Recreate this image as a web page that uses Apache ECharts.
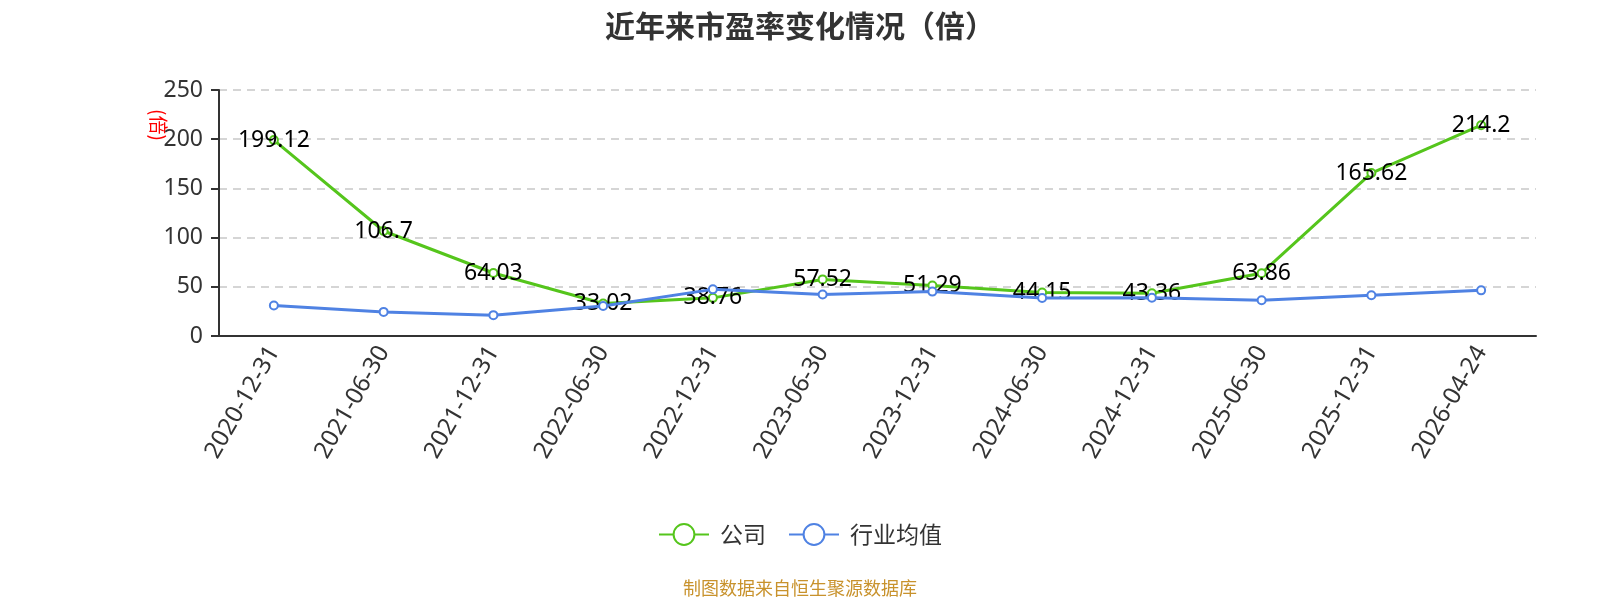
<!DOCTYPE html>
<html><head><meta charset="utf-8">
<script src="https://cdn.jsdelivr.net/npm/echarts@6/dist/echarts.min.js"></script>
<style>html,body{margin:0;padding:0;background:#fff}#c{width:1600px;height:600px}</style>
</head><body><div id="c"></div>
<script>
const categories = ['2020-12-31','2021-06-30','2021-12-31','2022-06-30','2022-12-31','2023-06-30','2023-12-31','2024-06-30','2024-12-31','2025-06-30','2025-12-31','2026-04-24'];
const companyPE = [199.12, 106.7, 64.03, 33.02, 38.76, 57.52, 51.29, 44.15, 43.36, 63.86, 165.62, 214.2];
const industryPE = [31.0, 24.5, 21.2, 30.4, 47.4, 42.2, 45.1, 38.6, 38.8, 36.3, 41.5, 46.4];
const yTicks = [0, 50, 100, 150, 200, 250];

const chart = echarts.init(document.getElementById('c'));
chart.setOption({
  animation: false,
  title: {text: '近年来市盈率变化情况（倍）', left: 'center', top: 6,
    textStyle: {fontSize: 30, fontWeight: 'bold', color: '#333', fontFamily: 'Noto Sans CJK SC'}},
  legend: {top: 518, left: 'center', itemWidth: 50, itemHeight: 26, itemGap: 22,
    textStyle: {fontSize: 23, color: '#333', fontFamily: 'Noto Sans CJK SC', padding: [0, 0, 0, 6]},
    data: ['公司', '行业均值']},
  grid: {left: 219, right: 64, top: 90, bottom: 264},
  xAxis: {type: 'category', data: categories, boundaryGap: true,
    axisLine: {lineStyle: {color: '#333', width: 2}},
    axisTick: {alignWithLabel: false, length: 8, lineStyle: {color: '#333', width: 2}},
    axisLabel: {rotate: 60, fontSize: 24, color: '#333', margin: 12, fontFamily: 'Noto Sans'}},
  yAxis: {type: 'value', min: yTicks[0], max: yTicks[yTicks.length-1], interval: 50,
    axisLine: {show: true, lineStyle: {color: '#333', width: 2}},
    axisTick: {show: true, length: 8, lineStyle: {color: '#333', width: 2}},
    axisLabel: {fontSize: 23, color: '#333', margin: 16, fontFamily: 'Noto Sans'},
    splitLine: {lineStyle: {type: [8, 6], color: '#c8c8c8', width: 1.5}}},
  graphic: [{type: 'text', x: 158, y: 125, rotation: -Math.PI/2,
     style: {text: '(倍)', x: 0, y: 0, align: 'center', verticalAlign: 'middle', fill: '#ff0000', fontSize: 19, fontFamily: 'Noto Sans CJK SC'}},
    {type: 'text', left: 'center', top: 579, style: {text: '制图数据来自恒生聚源数据库', fill: '#c8922c', fontSize: 18, fontFamily: 'Noto Sans CJK SC'}}],
  series: [
    {name: '公司', type: 'line', data: companyPE, symbol: 'emptyCircle', symbolSize: 8,
     itemStyle: {color: '#55c51c'}, lineStyle: {width: 3, color: '#55c51c'}, z: 2,
     label: {show: true, position: 'inside', fontSize: 23, color: '#000', fontFamily: 'Noto Sans'}},
    {name: '行业均值', type: 'line', data: industryPE, symbol: 'emptyCircle', symbolSize: 8,
     itemStyle: {color: '#4f82e3'}, lineStyle: {width: 3, color: '#4f82e3'}, z: 3}
  ]
});
</script></body></html>
